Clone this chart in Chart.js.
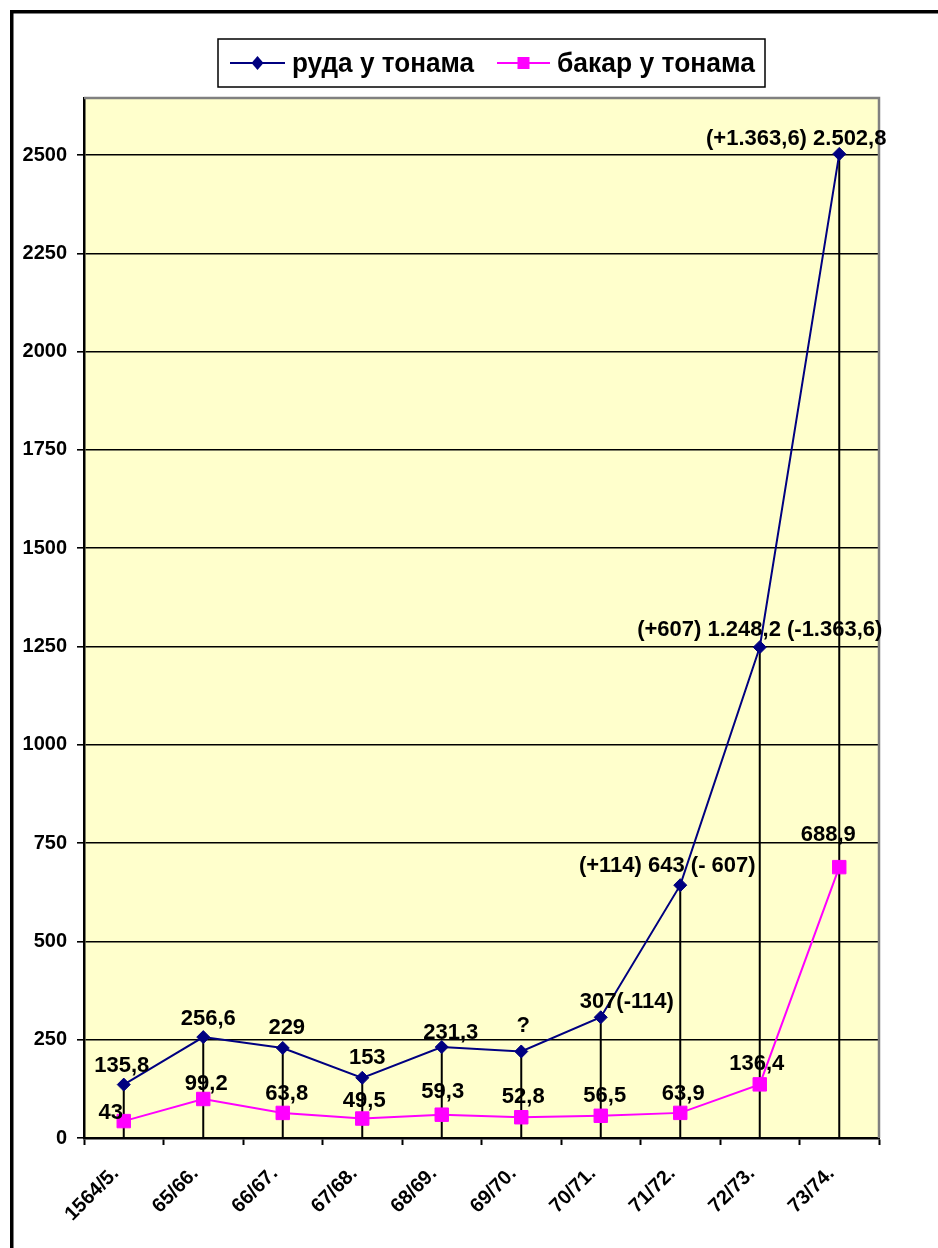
<!DOCTYPE html>
<html>
<head>
<meta charset="utf-8">
<script src="https://cdn.jsdelivr.net/npm/chart.js@4.4.1/dist/chart.umd.min.js"></script>
<style>
  html, body { margin: 0; padding: 0; background: #fff; }
  #wrap { width: 938px; height: 1248px; position: relative; }
</style>
</head>
<body>
<div id="wrap"><canvas id="c" width="938" height="1248"></canvas></div>
<script>
// ---- data ----
const categories = ['1564/5.', '65/66.', '66/67.', '67/68.', '68/69.', '69/70.', '70/71.', '71/72.', '72/73.', '73/74.'];
const oreValues = [135.8, 256.6, 229, 153, 231.3, 220, 307, 643, 1248.2, 2502.8];
const copperValues = [43, 99.2, 63.8, 49.5, 59.3, 52.8, 56.5, 63.9, 136.4, 688.9];
const oreLabels = ['135,8', '256,6', '229', '153', '231,3', '?', '307(-114)', '(+114) 643 (- 607)', '(+607) 1.248,2 (-1.363,6)', '(+1.363,6) 2.502,8'];
const copperLabels = ['43', '99,2', '63,8', '49,5', '59,3', '52,8', '56,5', '63,9', '136,4', '688,9'];
const seriesNames = ['руда у тонама', 'бакар у тонама'];
const yTickValues = [0, 250, 500, 750, 1000, 1250, 1500, 1750, 2000, 2250, 2500];

const FONT = "'Liberation Sans', Arial, sans-serif";
const NAVY = '#000080';
const MAGENTA = '#FF00FF';

// label placement (style/layout, not data)
const labelShift = {
  0: [[-2,-13],[5,-12],[4,-14],[5,-14],[9,-8],[2,-19],[26,-9],[-13,-13],[0,-11],[-43,-9]],
  1: [[-13,-2],[3,-9],[4,-13],[2,-12],[1,-17],[2,-14],[4,-14],[3,-13],[-3,-14],[-11,-26]]
};

const framePlugin = {
  id: 'frame',
  beforeDraw(chart) {
    const ctx = chart.ctx, a = chart.chartArea;
    ctx.save();
    ctx.fillStyle = '#fff';
    ctx.fillRect(0, 0, chart.width, chart.height);
    // outer frame (top & left visible)
    ctx.fillStyle = '#000';
    ctx.fillRect(10, 10, chart.width - 10, 3.5);
    ctx.fillRect(10, 10, 3.5, chart.height - 10);
    // plot background
    ctx.fillStyle = '#FFFFCC';
    ctx.fillRect(a.left, a.top, a.right - a.left, a.bottom - a.top);
    ctx.restore();
  },
  beforeDatasetsDraw(chart) {
    const ctx = chart.ctx, a = chart.chartArea;
    const xs = chart.scales.x, ys = chart.scales.y;
    ctx.save();
    // gray plot border top/right
    ctx.strokeStyle = '#808080';
    ctx.lineWidth = 2.5;
    ctx.beginPath();
    ctx.moveTo(a.left, a.top);
    ctx.lineTo(a.right, a.top);
    ctx.lineTo(a.right, a.bottom);
    ctx.stroke();
    // drop lines
    ctx.strokeStyle = '#000';
    ctx.lineWidth = 2;
    categories.forEach((c, i) => {
      const v = Math.max(oreValues[i], copperValues[i]);
      const x = xs.getPixelForValue(i);
      ctx.beginPath();
      ctx.moveTo(x, ys.getPixelForValue(v));
      ctx.lineTo(x, ys.getPixelForValue(0));
      ctx.stroke();
    });
    ctx.restore();
  },
  afterDatasetsDraw(chart) {
    const ctx = chart.ctx;
    ctx.save();
    ctx.font = 'bold 22px ' + FONT;
    ctx.fillStyle = '#000';
    ctx.textBaseline = 'alphabetic';
    ctx.textAlign = 'center';
    [oreLabels, copperLabels].forEach((labels, di) => {
      const meta = chart.getDatasetMeta(di);
      meta.data.forEach((pt, i) => {
        const s = labelShift[di][i];
        ctx.fillText(labels[i], pt.x + s[0], pt.y + s[1]);
      });
    });
    ctx.restore();
  },
  afterDraw(chart) {
    // legend
    const ctx = chart.ctx;
    ctx.save();
    ctx.fillStyle = '#fff';
    ctx.fillRect(218, 39, 547, 48);
    ctx.strokeStyle = '#000';
    ctx.lineWidth = 1.5;
    ctx.strokeRect(218, 39, 547, 48);
    const items = [
      { x0: 230, x1: 285, tx: 292, tw: 182, color: NAVY, marker: 'diamond' },
      { x0: 497, x1: 550, tx: 557, tw: 198, color: MAGENTA, marker: 'square' }
    ];
    const cy = 63;
    items.forEach((it, i) => {
      ctx.strokeStyle = it.color;
      ctx.lineWidth = 2;
      ctx.beginPath();
      ctx.moveTo(it.x0, cy);
      ctx.lineTo(it.x1, cy);
      ctx.stroke();
      ctx.fillStyle = it.color;
      const mx = (it.x0 + it.x1) / 2;
      ctx.beginPath();
      if (it.marker === 'diamond') {
        ctx.moveTo(mx, cy - 7); ctx.lineTo(mx + 6, cy); ctx.lineTo(mx, cy + 7); ctx.lineTo(mx - 6, cy);
        ctx.closePath();
      } else {
        ctx.rect(mx - 6, cy - 6, 12, 12);
      }
      ctx.fill();
      ctx.fillStyle = '#000';
      ctx.font = 'bold 27px ' + FONT;
      ctx.textAlign = 'left';
      ctx.textBaseline = 'alphabetic';
      ctx.fillText(seriesNames[i], it.tx, 72, it.tw);
    });
    ctx.restore();
  }
};

new Chart(document.getElementById('c'), {
  type: 'line',
  data: {
    labels: categories,
    datasets: [
      {
        label: seriesNames[0],
        data: oreValues,
        borderColor: NAVY,
        backgroundColor: NAVY,
        borderWidth: 2,
        pointStyle: 'rectRot',
        pointRadius: 6.5,
        pointBorderWidth: 1,
        pointBackgroundColor: NAVY,
        pointBorderColor: NAVY,
        tension: 0,
        fill: false
      },
      {
        label: seriesNames[1],
        data: copperValues,
        borderColor: MAGENTA,
        backgroundColor: MAGENTA,
        borderWidth: 2,
        pointStyle: 'rect',
        pointRadius: 9.5,
        pointBorderWidth: 1,
        pointBackgroundColor: MAGENTA,
        pointBorderColor: MAGENTA,
        tension: 0,
        fill: false
      }
    ]
  },
  options: {
    responsive: false,
    devicePixelRatio: 1,
    animation: false,
    events: [],
    layout: { padding: { left: 0, right: 59, top: 98, bottom: 0 } },
    plugins: {
      legend: { display: false },
      tooltip: { enabled: false },
      title: { display: false }
    },
    scales: {
      x: {
        type: 'category',
        offset: true,
        afterFit(scale) { scale.height = 110; },
        grid: {
          offset: true,
          drawOnChartArea: false,
          drawTicks: true,
          tickLength: 7,
          tickWidth: 2,
          tickColor: '#000'
        },
        border: { color: '#000', width: 2.5 },
        ticks: {
          color: '#000',
          font: { family: FONT, size: 20, weight: 'bold' },
          minRotation: 45,
          maxRotation: 45,
          autoSkip: false,
          padding: 17,
          labelOffset: -8
        }
      },
      y: {
        min: 0,
        max: 2645,
        afterFit(scale) { scale.width = 84; },
        afterBuildTicks(scale) {
          scale.ticks = yTickValues.map(v => ({ value: v }));
        },
        grid: {
          color: '#000',
          lineWidth: 1.6,
          tickLength: 7,
          tickColor: '#000',
          tickWidth: 1.6
        },
        border: { color: '#000', width: 2.5 },
        ticks: {
          color: '#000',
          font: { family: FONT, size: 20, weight: 'bold' },
          padding: 10,
          callback: (v) => String(v)
        }
      }
    }
  },
  plugins: [framePlugin]
});
</script>
</body>
</html>
